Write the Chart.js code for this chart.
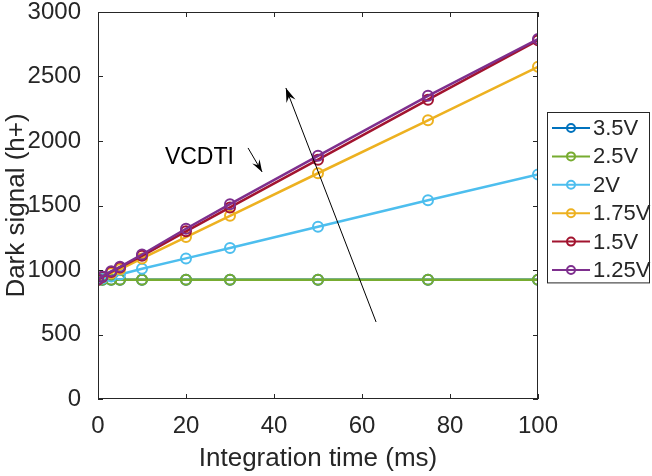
<!DOCTYPE html>
<html>
<head>
<meta charset="utf-8">
<script src="https://cdn.jsdelivr.net/npm/chart.js@4"></script>
<style>
  html, body { margin: 0; padding: 0; background: #fff; }
  #wrap { width: 652px; height: 476px; }
</style>
</head>
<body>
<div id="wrap"><canvas id="darkChart" width="652" height="476"></canvas></div>
<script>
// Integration times (ms)
const times = [0, 1, 3, 5, 10, 20, 30, 50, 75, 100];

// Dark signal per VCDTI level
const seriesNames = ['3.5V', '2.5V', '2V', '1.75V', '1.5V', '1.25V'];
const sig35  = [925, 925, 925, 925, 925, 925, 925, 925, 925, 925];
const sig25  = [925, 925, 925, 925, 925, 925, 925, 925, 925, 925];
const sig20  = [925, 935, 950, 965, 1010, 1090, 1170, 1335, 1540, 1740];
const sig175 = [925, 945, 975, 1005, 1090, 1255, 1420, 1750, 2160, 2575];
const sig15  = [925, 945, 985, 1020, 1110, 1300, 1485, 1855, 2320, 2780];
const sig125 = [930, 950, 990, 1025, 1120, 1320, 1510, 1885, 2350, 2790];
const seriesColors = ['#0072BD', '#77AC30', '#4DBEEE', '#EDB120', '#A2142F', '#7E2F8E'];

const xTicks = [0, 20, 40, 60, 80, 100];
const yTicks = [0, 500, 1000, 1500, 2000, 2500, 3000];

// Arrow / label annotations in data units
const bigArrow = { from: [63.2, 597], to: [42.7, 2411] };
const smallArrow = { from: [34.1, 1946], to: [37.3, 1760] };
const labelPos = [15.2, 1868];

const allSeries = [sig35, sig25, sig20, sig175, sig15, sig125];
const FONT = '"Liberation Sans", Arial, Helvetica, sans-serif';
const INK = '#262626';

const datasets = allSeries.map(function (vals, i) {
  return {
    label: seriesNames[i],
    data: vals.map(function (v, j) { return { x: times[j], y: v }; }),
    borderColor: seriesColors[i],
    backgroundColor: 'rgba(0,0,0,0)',
    borderWidth: 2.5,
    pointRadius: 5,
    pointBorderWidth: 2,
    pointBorderColor: seriesColors[i],
    pointBackgroundColor: 'rgba(0,0,0,0)',
    tension: 0,
    order: allSeries.length - i // later series drawn on top
  };
});

function drawArrow(ctx, x1, y1, x2, y2, head) {
  ctx.beginPath();
  ctx.moveTo(x1, y1);
  ctx.lineTo(x2, y2);
  ctx.stroke();
  const a = Math.atan2(y2 - y1, x2 - x1);
  ctx.beginPath();
  ctx.moveTo(x2, y2);
  ctx.lineTo(x2 - head * Math.cos(a - 0.33), y2 - head * Math.sin(a - 0.33));
  ctx.lineTo(x2 - head * 0.6 * Math.cos(a), y2 - head * 0.6 * Math.sin(a));
  ctx.lineTo(x2 - head * Math.cos(a + 0.33), y2 - head * Math.sin(a + 0.33));
  ctx.closePath();
  ctx.fill();
}

const framePlugin = {
  id: 'frame',
  afterDraw: function (chart) {
    const ctx = chart.ctx;
    const area = chart.chartArea;
    const xs = chart.scales.x;
    const ys = chart.scales.y;
    ctx.save();

    // axes box with inward ticks
    ctx.strokeStyle = INK;
    ctx.lineWidth = 1;
    ctx.strokeRect(area.left + 0.5, area.top + 0.5, area.right - area.left - 1, area.bottom - area.top - 1);
    ctx.beginPath();
    xTicks.forEach(function (t) {
      const px = Math.round(xs.getPixelForValue(t)) + 0.5;
      ctx.moveTo(px, area.bottom); ctx.lineTo(px, area.bottom - 5);
      ctx.moveTo(px, area.top); ctx.lineTo(px, area.top + 5);
    });
    yTicks.forEach(function (t) {
      const py = Math.round(ys.getPixelForValue(t)) + 0.5;
      ctx.moveTo(area.left, py); ctx.lineTo(area.left + 5, py);
      ctx.moveTo(area.right, py); ctx.lineTo(area.right - 5, py);
    });
    ctx.stroke();

    // arrows and label
    ctx.strokeStyle = '#000';
    ctx.fillStyle = '#000';
    ctx.lineWidth = 1;
    drawArrow(ctx, xs.getPixelForValue(bigArrow.from[0]), ys.getPixelForValue(bigArrow.from[1]),
      xs.getPixelForValue(bigArrow.to[0]), ys.getPixelForValue(bigArrow.to[1]), 15);
    drawArrow(ctx, xs.getPixelForValue(smallArrow.from[0]), ys.getPixelForValue(smallArrow.from[1]),
      xs.getPixelForValue(smallArrow.to[0]), ys.getPixelForValue(smallArrow.to[1]), 13);
    ctx.font = '23px ' + FONT;
    ctx.textAlign = 'left';
    ctx.textBaseline = 'middle';
    ctx.fillText('VCDTI', xs.getPixelForValue(labelPos[0]), ys.getPixelForValue(labelPos[1]));

    // legend box
    const lx = area.right + 9, ly = 112, lw = 102, rowH = 28.4;
    const lh = rowH * seriesNames.length;
    ctx.fillStyle = '#fff';
    ctx.fillRect(lx, ly, lw, lh);
    ctx.strokeStyle = INK;
    ctx.strokeRect(lx + 0.5, ly + 0.5, lw, lh);
    ctx.font = '22px ' + FONT;
    seriesNames.forEach(function (name, i) {
      const cy = ly + 16 + i * rowH;
      ctx.strokeStyle = seriesColors[i];
      ctx.lineWidth = 2;
      ctx.beginPath();
      ctx.moveTo(lx + 5, cy); ctx.lineTo(lx + 43, cy);
      ctx.stroke();
      ctx.beginPath();
      ctx.arc(lx + 24, cy, 4, 0, Math.PI * 2);
      ctx.stroke();
      ctx.fillStyle = INK;
      ctx.fillText(name, lx + 46, cy + 1);
    });
    ctx.restore();
  }
};

new Chart(document.getElementById('darkChart'), {
  type: 'line',
  data: { datasets: datasets },
  options: {
    responsive: false,
    animation: false,
    layout: { padding: { top: 12, right: 114, left: 0, bottom: 0 } },
    plugins: { legend: { display: false }, tooltip: { enabled: false } },
    scales: {
      x: {
        type: 'linear',
        min: 0,
        max: 100,
        afterFit: function (s) { s.height = 77; s.paddingLeft = 0; s.paddingRight = 0; },
        afterBuildTicks: function (s) { s.ticks = xTicks.map(function (v) { return { value: v }; }); },
        grid: { display: false },
        border: { display: false },
        ticks: { color: INK, font: { family: FONT, size: 24 }, padding: 5, maxRotation: 0,
          callback: function (v) { return String(v); } },
        title: { display: true, text: 'Integration time (ms)', color: INK, font: { family: FONT, size: 26 }, padding: { top: 0, bottom: 2 } }
      },
      y: {
        type: 'linear',
        min: 0,
        max: 3000,
        afterFit: function (s) { s.width = 98; s.paddingTop = 0; s.paddingBottom = 0; },
        afterBuildTicks: function (s) { s.ticks = yTicks.map(function (v) { return { value: v }; }); },
        grid: { display: false },
        border: { display: false },
        ticks: { color: INK, font: { family: FONT, size: 24 }, padding: 9,
          callback: function (v) { return String(v); } },
        title: { display: true, text: 'Dark signal (h+)', color: INK, font: { family: FONT, size: 26 }, padding: { top: 1, bottom: 0 } }
      }
    }
  },
  plugins: [framePlugin]
});
</script>
</body>
</html>
